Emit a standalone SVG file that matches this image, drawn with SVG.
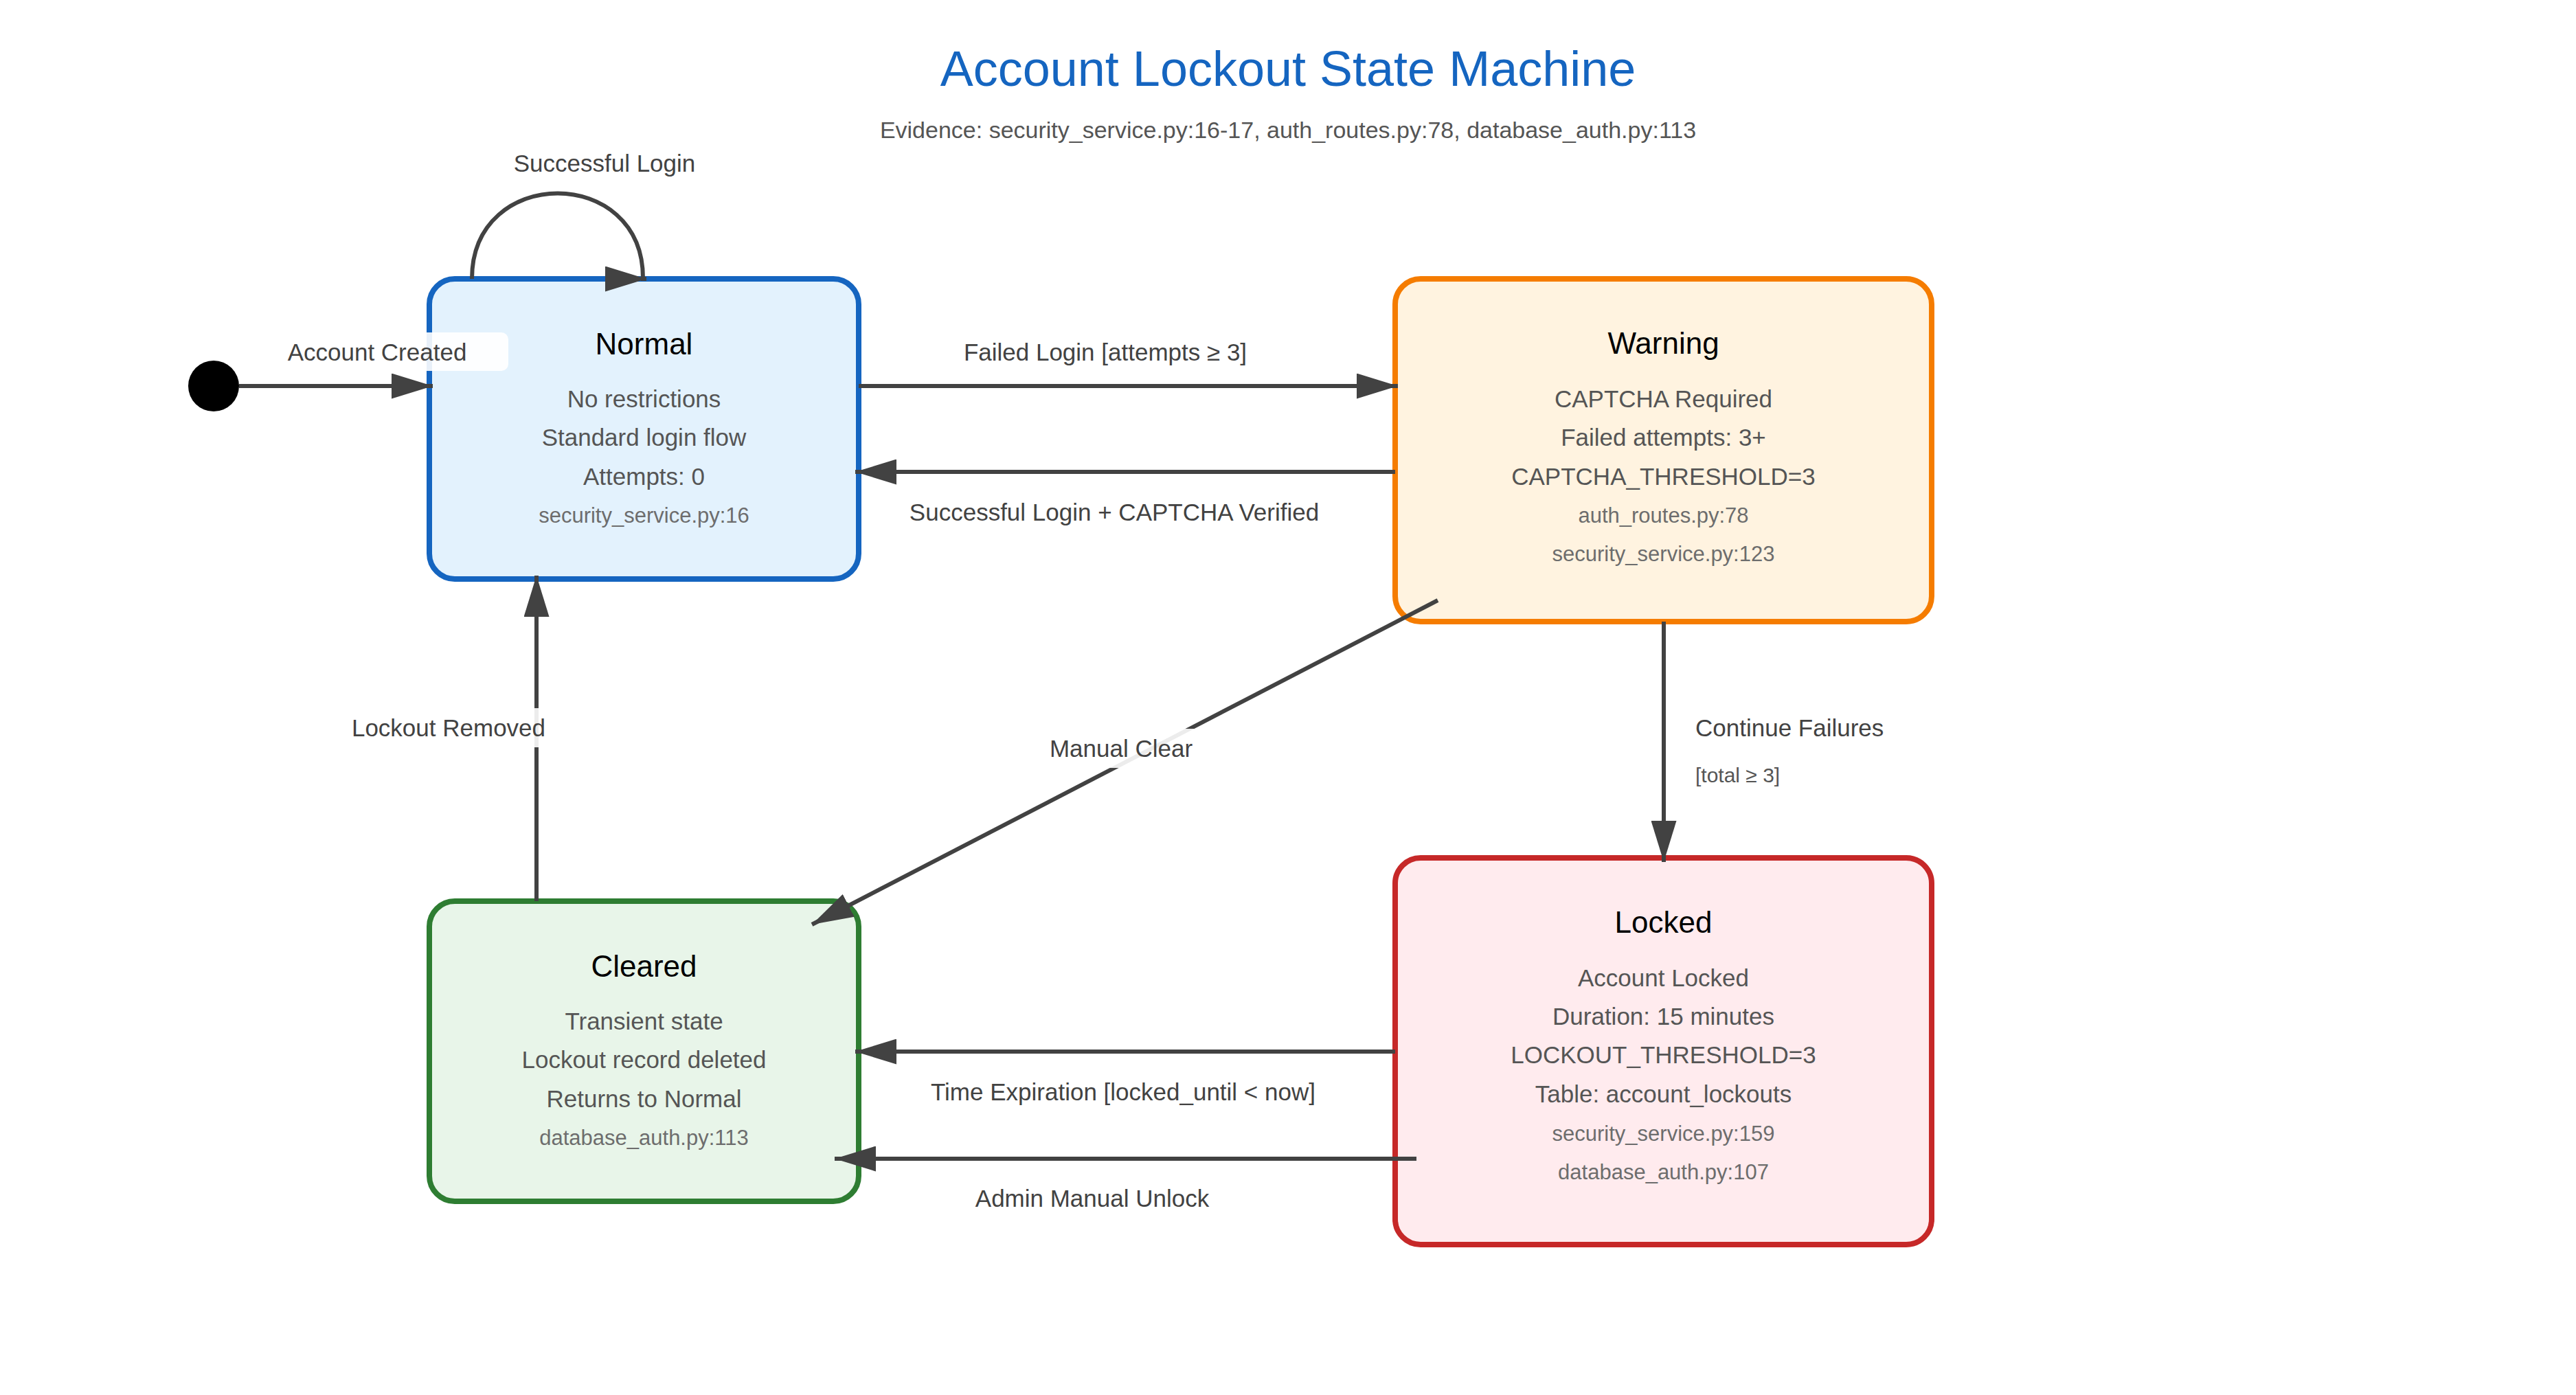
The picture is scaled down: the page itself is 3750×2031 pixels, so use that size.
<svg xmlns="http://www.w3.org/2000/svg" width="3750" height="2031" viewBox="0 0 3750 2031">
  <defs>
    <marker id="arrow" viewBox="0 0 60 37" refX="60" refY="18.5" markerWidth="60" markerHeight="37" markerUnits="userSpaceOnUse" orient="auto">
      <path d="M0,0 L60,18.5 L0,37 Z" fill="#424242"/>
    </marker>
    <style>
      text { font-family: "Liberation Sans", Arial, Helvetica, sans-serif; }
      .title { font-size: 72px; fill: #1565C0; text-anchor: middle; }
      .subtitle { font-size: 34px; fill: #555555; text-anchor: middle; }
      .box { stroke-width: 8; }
      .normal { fill: #E3F2FD; stroke: #1565C0; }
      .warning { fill: #FFF3E0; stroke: #F57C00; }
      .locked { fill: #FFEBEE; stroke: #C62828; }
      .cleared { fill: #E8F5E9; stroke: #2E7D32; }
      .ntitle { font-size: 44px; fill: #000000; text-anchor: middle; }
      .detail { font-size: 35px; fill: #555555; text-anchor: middle; }
      .ref { font-size: 31px; fill: #6d6d6d; text-anchor: middle; }
      .edge { fill: none; stroke: #424242; stroke-width: 6; marker-end: url(#arrow); }
      .elabel { font-size: 35px; fill: #424242; text-anchor: middle; }
      .elabel-l { font-size: 35px; fill: #424242; text-anchor: start; }
      .elabel-s { font-size: 30px; fill: #555555; text-anchor: start; }
      .lbg { fill: #ffffff; fill-opacity: 0.9; }
    </style>
  </defs>

  <rect x="0" y="0" width="3750" height="2031" fill="#ffffff"/>

  <text class="title" x="1875" y="125">Account Lockout State Machine</text>
  <text class="subtitle" x="1875" y="201">Evidence: security_service.py:16-17, auth_routes.py:78, database_auth.py:113</text>

  <g id="start">
    <circle cx="311" cy="562" r="37" fill="#000000"/>
  </g>

  <g id="node-normal">
    <rect class="box normal" x="625" y="406" width="625" height="437" rx="37" ry="37"/>
    <text class="ntitle" x="937.5" y="516">Normal</text>
    <text class="detail" x="937.5" y="593">No restrictions</text>
    <text class="detail" x="937.5" y="649">Standard login flow</text>
    <text class="detail" x="937.5" y="706">Attempts: 0</text>
    <text class="ref" x="937.5" y="761">security_service.py:16</text>
  </g>

  <g id="node-warning">
    <rect class="box warning" x="2031" y="406" width="781" height="499" rx="37" ry="37"/>
    <text class="ntitle" x="2421.5" y="515">Warning</text>
    <text class="detail" x="2421.5" y="593">CAPTCHA Required</text>
    <text class="detail" x="2421.5" y="649">Failed attempts: 3+</text>
    <text class="detail" x="2421.5" y="706">CAPTCHA_THRESHOLD=3</text>
    <text class="ref" x="2421.5" y="761">auth_routes.py:78</text>
    <text class="ref" x="2421.5" y="817">security_service.py:123</text>
  </g>

  <g id="node-locked">
    <rect class="box locked" x="2031" y="1249" width="781" height="563" rx="37" ry="37"/>
    <text class="ntitle" x="2421.5" y="1358">Locked</text>
    <text class="detail" x="2421.5" y="1436">Account Locked</text>
    <text class="detail" x="2421.5" y="1492">Duration: 15 minutes</text>
    <text class="detail" x="2421.5" y="1548">LOCKOUT_THRESHOLD=3</text>
    <text class="detail" x="2421.5" y="1605">Table: account_lockouts</text>
    <text class="ref" x="2421.5" y="1661">security_service.py:159</text>
    <text class="ref" x="2421.5" y="1717">database_auth.py:107</text>
  </g>

  <g id="node-cleared">
    <rect class="box cleared" x="625" y="1312" width="625" height="437" rx="37" ry="37"/>
    <text class="ntitle" x="937.5" y="1422">Cleared</text>
    <text class="detail" x="937.5" y="1499">Transient state</text>
    <text class="detail" x="937.5" y="1555">Lockout record deleted</text>
    <text class="detail" x="937.5" y="1612">Returns to Normal</text>
    <text class="ref" x="937.5" y="1667">database_auth.py:113</text>
  </g>

  <g id="connectors">
    <!-- start -> Normal -->
    <path class="edge" d="M 348 562 L 630 562"/>
    <rect class="lbg" x="358" y="484" width="382" height="56" rx="10"/>
    <text class="elabel" x="549" y="525">Account Created</text>

    <!-- Normal self loop -->
    <path class="edge" d="M 687 406 C 687 240, 937 240, 936 406 L 941 406"/>
    <text class="elabel" x="880" y="250">Successful Login</text>

    <!-- Normal -> Warning -->
    <path class="edge" d="M 1250 562 L 2035 562"/>
    <text class="elabel" x="1609" y="525">Failed Login [attempts ≥ 3]</text>

    <!-- Warning -> Normal -->
    <path class="edge" d="M 2031 687 L 1245 687"/>
    <text class="elabel" x="1622" y="758">Successful Login + CAPTCHA Verified</text>

    <!-- Warning -> Cleared -->
    <path class="edge" d="M 2093 874 L 1182 1346"/>
    <rect class="lbg" x="1480" y="1061" width="306" height="57" rx="10"/>
    <text class="elabel" x="1632" y="1102">Manual Clear</text>

    <!-- Warning -> Locked -->
    <path class="edge" d="M 2422 905 L 2422 1255"/>
    <text class="elabel-l" x="2468" y="1072">Continue Failures</text>
    <text class="elabel-s" x="2468" y="1139">[total ≥ 3]</text>

    <!-- Locked -> Cleared (time) -->
    <path class="edge" d="M 2031 1531 L 1245 1531"/>
    <text class="elabel" x="1635" y="1602">Time Expiration [locked_until &lt; now]</text>

    <!-- Locked -> Cleared (admin) -->
    <path class="edge" d="M 2062 1687 L 1215 1687"/>
    <text class="elabel" x="1590" y="1757">Admin Manual Unlock</text>

    <!-- Cleared -> Normal -->
    <path class="edge" d="M 781 1312 L 781 838"/>
    <rect class="lbg" x="462" y="1031" width="382" height="57" rx="10"/>
    <text class="elabel" x="653" y="1072">Lockout Removed</text>
  </g>
</svg>
